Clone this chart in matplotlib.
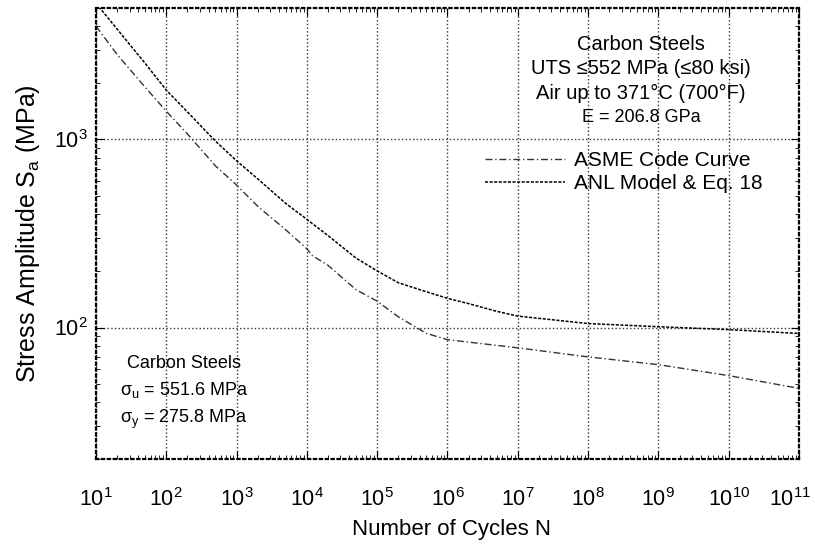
import numpy as np
import matplotlib
matplotlib.use('Agg')
from matplotlib import pyplot as plt
from matplotlib.ticker import LogLocator, NullFormatter
from matplotlib.transforms import ScaledTranslation

plt.rcParams['font.family'] = ['Liberation Sans', 'DejaVu Sans']
plt.rcParams['mathtext.fontset'] = 'custom'
plt.rcParams['mathtext.rm'] = 'Liberation Sans'
plt.rcParams['mathtext.it'] = 'Liberation Sans:italic'

# ASME code curve, carbon steels (MPa)
asme_n = [1e1, 2e1, 5e1, 1e2, 2e2, 5e2, 1e3, 2e3, 5e3, 1e4, 1.2e4, 2e4, 5e4,
          1e5, 2e5, 5e5, 1e6, 1e7, 1e8, 1e9, 1e10, 1e11]
asme_s = [3999, 2827, 1896, 1413, 1069, 724, 572, 441, 331, 262, 241, 214, 159,
          138, 114, 93.1, 86.2, 78.0, 69.8, 63.5, 55.5, 47.5]

# ANL model & Eq. 18 (MPa)
anl_n = [1e1, 2e1, 5e1, 1e2, 2e2, 5e2, 1e3, 2e3, 5e3, 1e4, 2e4, 5e4,
         1e5, 2e5, 5e5, 1e6, 2e6, 5e6, 1e7, 1e8, 1e9, 1e10, 1e11]
anl_s = [5300, 3860, 2540, 1830, 1400, 980, 770, 617, 457, 376, 308, 234,
         200, 173, 155, 143, 134, 122, 115, 105, 101, 97.5, 93]

x_ticks = [1e1, 1e2, 1e3, 1e4, 1e5, 1e6, 1e7, 1e8, 1e9, 1e10, 1e11]
y_ticks = [1e2, 1e3]

fig = plt.figure(figsize=(8.15, 5.44), dpi=100)
ax = fig.add_axes([96/815, 1 - 459/544, 703/815, 451/544])

ax.plot(asme_n, asme_s, color='0.2', lw=1.0, ls=(0, (5, 2, 1, 2)), label='ASME Code Curve')
ax.plot(anl_n, anl_s, color='black', lw=1.1, ls=(0, (2, 1)), label='ANL Model & Eq. 18')

ax.set_xscale('log')
ax.set_yscale('log')
ax.set_xlim(1e1, 1e11)
ax.set_ylim(20, 5000)

ax.set_xticks(x_ticks)
ax.set_yticks(y_ticks)
ax.xaxis.set_minor_locator(LogLocator(base=10, subs=np.arange(2, 10), numticks=20))
ax.xaxis.set_minor_formatter(NullFormatter())
ax.yaxis.set_minor_formatter(NullFormatter())

ax.tick_params(which='both', direction='in', top=True, right=True)
ax.tick_params(which='major', length=6, width=0.8, labelsize=15.5)
ax.tick_params(which='minor', length=3, width=0.6)
ax.tick_params(axis='x', which='major', pad=21)
ax.tick_params(axis='y', which='major', pad=6)

ax.grid(True, which='major', color='0.2', ls=':', lw=1.0)

for sp in ax.spines.values():
    sp.set_linestyle(':')
    sp.set_linewidth(1.6)

ax.set_xlabel('Number of Cycles N', fontsize=16)
ax.xaxis.set_label_coords((452 - 96) / 703, -(519 - 459) / 451)
ax.set_ylabel('Stress Amplitude S$_\\mathregular{a}$ (MPa)', fontsize=18)
ax.yaxis.set_label_coords(-(96 - 42) / 703, 0.5)

tx = (641 - 96) / 703
ax.text(tx, (459 - 45) / 451, 'Carbon Steels', transform=ax.transAxes,
        ha='center', va='center', fontsize=14.5)
ax.text(tx, (459 - 69) / 451, 'UTS ≤552 MPa (≤80 ksi)', transform=ax.transAxes,
        ha='center', va='center', fontsize=14.5)
ax.text(tx, (459 - 93) / 451, 'Air up to 371°C (700°F)', transform=ax.transAxes,
        ha='center', va='center', fontsize=14.5)
ax.text(tx, (459 - 118) / 451, 'E = 206.8 GPa', transform=ax.transAxes,
        ha='center', va='center', fontsize=13)

bx = (184 - 96) / 703
ax.text(bx, (459 - 363) / 451, 'Carbon Steels', transform=ax.transAxes,
        ha='center', va='center', fontsize=13)
ax.text(bx, (459 - 390) / 451, 'σ$_\\mathregular{u}$ = 551.6 MPa', transform=ax.transAxes,
        ha='center', va='center', fontsize=13)
ax.text(bx, (459 - 419) / 451, 'σ$_\\mathregular{y}$ = 275.8 MPa', transform=ax.transAxes,
        ha='center', va='center', fontsize=13)

ax.legend(loc='upper left', bbox_to_anchor=((485 - 96) / 703, (459 - 151) / 451),
          frameon=False, fontsize=15, handlelength=3.85, handletextpad=0.4,
          borderpad=0, borderaxespad=0, labelspacing=0.2)

fig.canvas.draw()
last = ax.get_xticklabels()[-1]
last.set_transform(last.get_transform() + ScaledTranslation(-9 / 100, 0, fig.dpi_scale_trans))

fig.savefig('out.png', dpi=100)
